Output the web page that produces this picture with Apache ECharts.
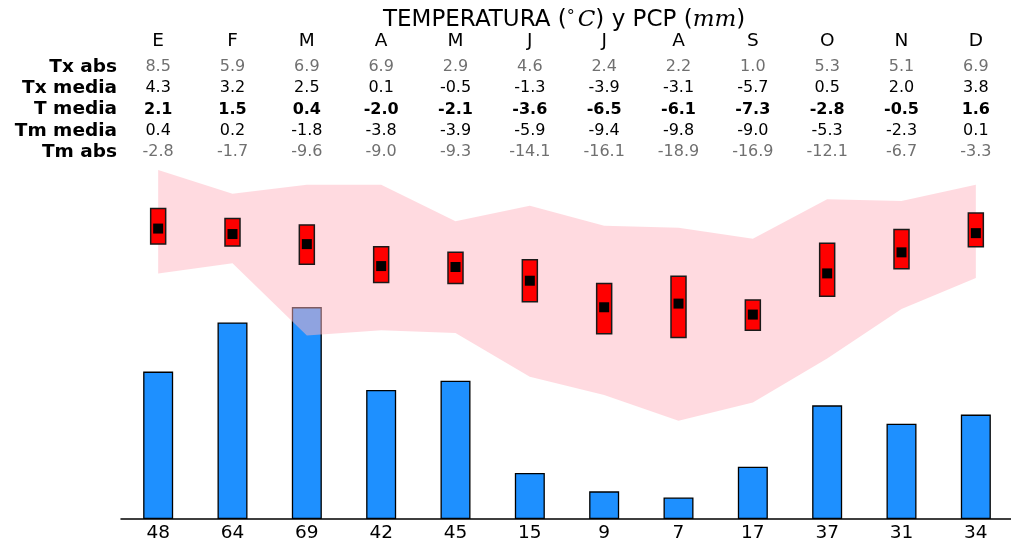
<!DOCTYPE html>
<html>
<head>
<meta charset="utf-8">
<script src="https://cdn.jsdelivr.net/npm/echarts@6/dist/echarts.min.js"></script>
<style>html,body{margin:0;padding:0;background:#fff;overflow:hidden}#c{width:1014px;height:546px}</style>
</head>
<body>
<div id="c"></div>
<script>
const months = ['E','F','M','A','M','J','J','A','S','O','N','D'];
const txAbs   = [8.5, 5.9, 6.9, 6.9, 2.9, 4.6, 2.4, 2.2, 1.0, 5.3, 5.1, 6.9];
const txMedia = [4.3, 3.2, 2.5, 0.1, -0.5, -1.3, -3.9, -3.1, -5.7, 0.5, 2.0, 3.8];
const tMedia  = [2.1, 1.5, 0.4, -2.0, -2.1, -3.6, -6.5, -6.1, -7.3, -2.8, -0.5, 1.6];
const tmMedia = [0.4, 0.2, -1.8, -3.8, -3.9, -5.9, -9.4, -9.8, -9.0, -5.3, -2.3, 0.1];
const tmAbs   = [-2.8, -1.7, -9.6, -9.0, -9.3, -14.1, -16.1, -18.9, -16.9, -12.1, -6.7, -3.3];
const pcp     = [48, 64, 69, 42, 45, 15, 9, 7, 17, 37, 31, 34];
const rowNames = ['Tx abs', 'Tx media', 'T media', 'Tm media', 'Tm abs'];

const FONT = 'DejaVu Sans';
const idx = months.map((m, i) => i);
const fmt = v => v.toFixed(1);

const GRID_TOP = 160;
function topAxis(labels, centerY, style, name) {
  return {
    type: 'category', gridIndex: 0, position: 'top', offset: GRID_TOP - centerY,
    data: idx, boundaryGap: true,
    axisLine: {show: false, onZero: false}, axisTick: {show: false}, splitLine: {show: false},
    axisLabel: Object.assign({interval: 0, margin: 0, verticalAlign: 'middle',
      fontFamily: FONT, formatter: (v, i) => labels[i]}, style),
    name: name || '', nameLocation: 'start', nameGap: 4,
    nameTextStyle: {fontFamily: FONT, fontWeight: 'bold', fontSize: 18.5, color: '#000',
      verticalAlign: 'middle', align: 'right'}
  };
}
const grey = {color: '#707070', fontSize: 16};
const black = {color: '#000', fontSize: 16};
const bold = {color: '#000', fontSize: 16, fontWeight: 'bold'};

const chart = echarts.init(document.getElementById('c'), null, {renderer: 'canvas'});
chart.setOption({
  animation: false,
  title: {
    text: '{n|TEMPERATURA (}{s|°}{i|C}{n|) y PCP (}{i|mm}{n|)}',
    left: 378, top: 4,
    textStyle: {
      fontWeight: 'normal',
      rich: {
        n: {fontFamily: FONT, fontSize: 23, fontWeight: 'normal', color: '#000'},
        s: {fontFamily: FONT, fontSize: 16, fontWeight: 'normal', color: '#000', padding: [0, 3, 7, 0]},
        i: {fontFamily: 'DejaVu Serif', fontStyle: 'italic', fontWeight: 'normal', fontSize: 23, color: '#000'}
      }
    }
  },
  grid: {left: 121, right: 1, top: GRID_TOP, bottom: 27, containLabel: false},
  xAxis: [
    {
      type: 'category', gridIndex: 0, position: 'bottom', data: idx, boundaryGap: true,
      axisLine: {show: true, onZero: false, lineStyle: {color: '#000', width: 1.5}},
      axisTick: {show: false}, splitLine: {show: false},
      axisLabel: {interval: 0, margin: 5, fontFamily: FONT, fontSize: 18.5, color: '#000',
        formatter: (v, i) => String(pcp[i])}
    },
    topAxis(months, 41, {color: '#000', fontSize: 18.5}),
    topAxis(txAbs.map(fmt), 67, grey, rowNames[0]),
    topAxis(txMedia.map(fmt), 88, black, rowNames[1]),
    topAxis(tMedia.map(fmt), 109.5, bold, rowNames[2]),
    topAxis(tmMedia.map(fmt), 131, black, rowNames[3]),
    topAxis(tmAbs.map(fmt), 152, grey, rowNames[4])
  ],
  yAxis: [
    {type: 'value', min: -29.64, max: 9.593, show: false, splitLine: {show: false}},
    {type: 'value', min: 0, max: 116.9, show: false, splitLine: {show: false}}
  ],
  series: [
    {
      type: 'bar', name: 'PCP', xAxisIndex: 0, yAxisIndex: 1, data: pcp, barWidth: 30, z: 1,
      itemStyle: {color: '#1E90FF', borderColor: '#000', borderWidth: 1.3}
    },
    {
      type: 'line', xAxisIndex: 0, yAxisIndex: 0, data: tmAbs, stack: 'band', stackStrategy: 'all',
      symbol: 'none', lineStyle: {opacity: 0, width: 0}, z: 2, silent: true
    },
    {
      type: 'line', xAxisIndex: 0, yAxisIndex: 0, data: txAbs.map((v, i) => v - tmAbs[i]),
      stack: 'band', stackStrategy: 'all',
      symbol: 'none', lineStyle: {opacity: 0, width: 0}, z: 2, silent: true,
      areaStyle: {color: '#FFB6C1', opacity: 0.5}
    },
    {
      type: 'custom', xAxisIndex: 0, yAxisIndex: 0, z: 3,
      data: idx.map(i => [i, txMedia[i], tmMedia[i]]),
      encode: {x: 0, y: [1, 2]},
      renderItem: function (params, api) {
        const p1 = api.coord([api.value(0), api.value(1)]);
        const p2 = api.coord([api.value(0), api.value(2)]);
        return {
          type: 'rect',
          shape: {x: p1[0] - 7.5, y: p1[1], width: 15, height: p2[1] - p1[1]},
          style: {fill: '#FF0000', stroke: '#1a1a1a', lineWidth: 1.5}
        };
      }
    },
    {
      type: 'scatter', xAxisIndex: 0, yAxisIndex: 0, data: tMedia, z: 4,
      symbol: 'rect', symbolSize: 10, itemStyle: {color: '#000', opacity: 1}
    }
  ]
});
</script>
</body>
</html>
